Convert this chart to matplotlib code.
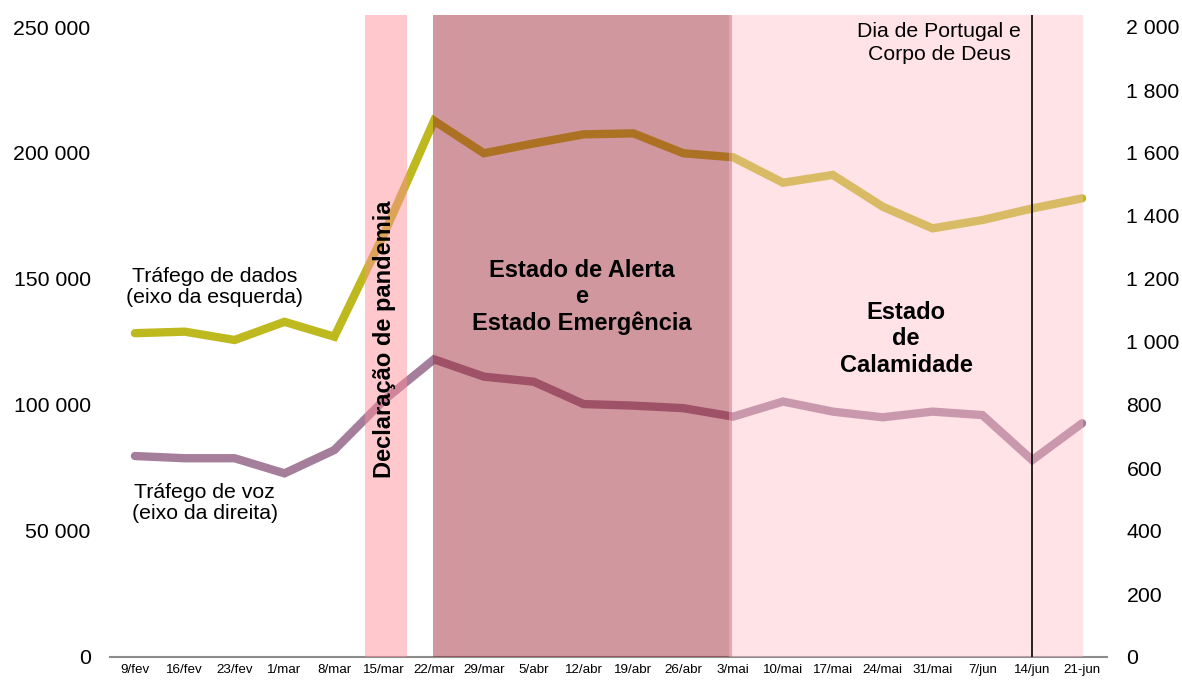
import matplotlib
matplotlib.use("Agg")
import matplotlib.pyplot as plt
from matplotlib.ticker import FuncFormatter

plt.rcParams['font.family'] = ['Liberation Sans', 'DejaVu Sans']

semanas = ["9/fev", "16/fev", "23/fev", "1/mar", "8/mar", "15/mar", "22/mar",
           "29/mar", "5/abr", "12/abr", "19/abr", "26/abr", "3/mai", "10/mai",
           "17/mai", "24/mai", "31/mai", "7/jun", "14/jun", "21-jun"]
dados = [128500, 129100, 125800, 133000, 127100, 168000, 212800,
         199900, 203800, 207400, 207800, 199900, 198300, 188200,
         191300, 178700, 170100, 173400, 178000, 182000]
voz = [638, 631, 631, 583, 657, 816, 945,
       890, 874, 803, 798, 790, 763, 811,
       779, 761, 779, 768, 625, 742]

x = list(range(len(semanas)))

fig = plt.figure(figsize=(11.82, 6.81), dpi=100)
ax = fig.add_axes([110/1182, 1 - 657/681, (1107-110)/1182, (657-15)/681])
ax2 = ax.twinx()

# linhas
ax.plot(x, dados, color="#BEB91E", lw=6, solid_capstyle="round", solid_joinstyle="miter", zorder=2)
ax2.plot(x, voz, color="#A57E9B", lw=6, solid_capstyle="round", solid_joinstyle="miter", zorder=2)

# periodos (por cima das linhas, semi-transparentes)
ax2.axvspan(4.61, 5.45, color=(1.0, 140/255, 152/255), alpha=0.48, lw=0, zorder=3)
ax2.axvspan(5.97, 11.98, color=(151/255, 27/255, 40/255), alpha=0.45, lw=0, zorder=3)
ax2.axvspan(11.92, 19.02, color=(1.0, 190/255, 200/255), alpha=0.42, lw=0, zorder=3)
ax2.axvline(18, color="black", lw=1.2, zorder=4)

ax.set_xlim(-0.5, len(semanas) - 0.5)
ax.set_ylim(0, 250000 * 642 / 630)
ax2.set_ylim(0, 2000 * 642 / 630)
ax.set_yticks(range(0, 250001, 50000))
ax2.set_yticks(range(0, 2001, 200))

fmt = FuncFormatter(lambda v, p: f"{int(v):,}".replace(",", " "))
ax.yaxis.set_major_formatter(fmt)
ax2.yaxis.set_major_formatter(fmt)

ax.set_xticks(x)
ax.set_xticklabels(semanas, fontsize=9.6)
ax.tick_params(axis="x", length=0, pad=5)
ax.tick_params(axis="y", length=0, pad=14, labelsize=15.3)
ax2.tick_params(axis="y", length=0, pad=14, labelsize=15.3)

for s in ["top", "left", "right"]:
    ax.spines[s].set_visible(False)
for s in ["top", "left", "right", "bottom"]:
    ax2.spines[s].set_visible(False)
ax.spines["bottom"].set_color("#8c8c8c")
ax.spines["bottom"].set_linewidth(1.5)

# textos
ax2.text(1.60, 146800 * 2000 / 250000, "Tráfego de dados\n(eixo da esquerda)", ha="center", va="center",
         fontsize=15.3, linespacing=1.16, zorder=5)
ax2.text(1.40, 61100 * 2000 / 250000, "Tráfego de voz\n(eixo da direita)", ha="center", va="center",
         fontsize=15.3, linespacing=1.16, zorder=5)
ax2.text(5.01, 126200 * 2000 / 250000, "Declaração de pandemia", rotation=90, ha="center", va="center",
         fontsize=17, fontweight="bold", zorder=5)
ax2.text(8.96, 142900 * 2000 / 250000, "Estado de Alerta\ne\nEstado Emergência", ha="center", va="center",
         fontsize=17, fontweight="bold", linespacing=1.17, zorder=5)
ax2.text(15.47, 126200 * 2000 / 250000, "Estado\nde\nCalamidade", ha="center", va="center",
         fontsize=17, fontweight="bold", linespacing=1.17, zorder=5)
ax2.text(16.13, 243600 * 2000 / 250000, "Dia de Portugal e\nCorpo de Deus", ha="center", va="center",
         fontsize=15.3, linespacing=1.3, zorder=5)

fig.savefig("out.png", dpi=100)
